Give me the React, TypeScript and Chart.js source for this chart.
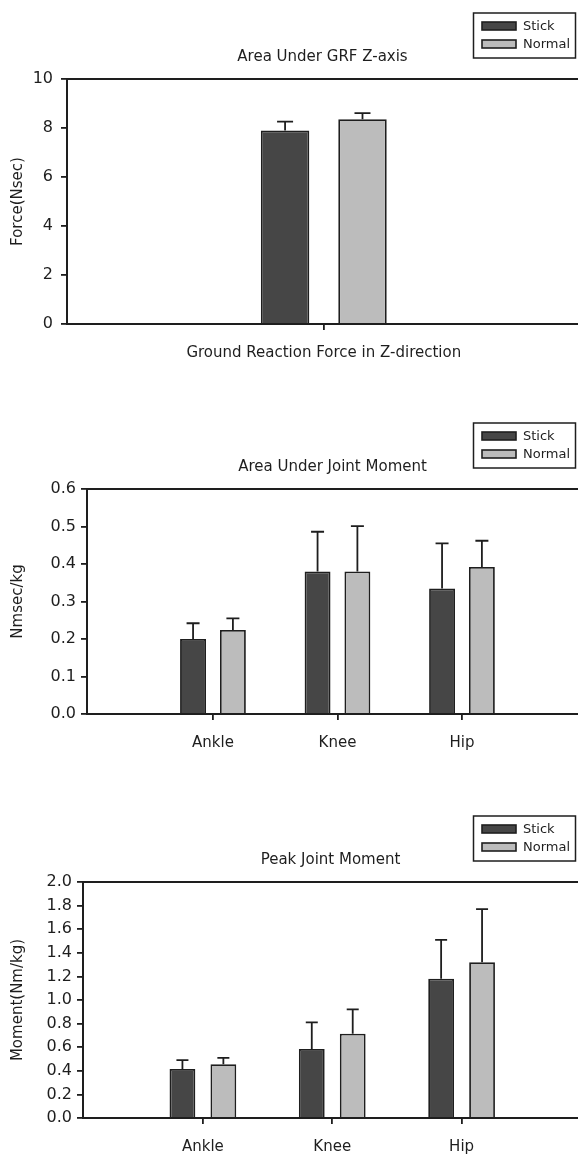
import React, { useEffect, useRef } from 'react';
import { Chart, registerables } from 'chart.js';

Chart.register(...registerables);

// ---------- data ----------
const seriesNames = ['Stick', 'Normal'];
const seriesColors = ['#464646', '#bcbcbc'];

// Panel 1
const grfTitle = 'Area Under GRF Z-axis';
const grfCategories = ['Ground Reaction Force in Z-direction'];
const grfStick = [7.9];
const grfStickErr = [0.36];
const grfNormal = [8.36];
const grfNormalErr = [0.25];
const grfYTicks = [0, 2, 4, 6, 8, 10];
const grfYTitle = 'Force(Nsec)';

// Panel 2
const jointCategories = ['Ankle', 'Knee', 'Hip'];
const areaTitle = 'Area Under Joint Moment';
const areaStick = [0.2, 0.38, 0.335];
const areaStickErr = [0.042, 0.106, 0.12];
const areaNormal = [0.224, 0.38, 0.392];
const areaNormalErr = [0.031, 0.121, 0.07];
const areaYTicks = [0, 0.1, 0.2, 0.3, 0.4, 0.5, 0.6];
const areaYTitle = 'Nmsec/kg';

// Panel 3
const peakTitle = 'Peak Joint Moment';
const peakStick = [0.415, 0.585, 1.18];
const peakStickErr = [0.075, 0.225, 0.33];
const peakNormal = [0.455, 0.715, 1.32];
const peakNormalErr = [0.055, 0.205, 0.45];
const peakYTicks = [0, 0.2, 0.4, 0.6, 0.8, 1.0, 1.2, 1.4, 1.6, 1.8, 2.0];
const peakYTitle = 'Moment(Nm/kg)';

// ---------- styling ----------
const FONT = "'DejaVu Sans', 'Liberation Sans', Arial, sans-serif";
const INK = '#1e1e1e';
Chart.defaults.font.family = FONT;
Chart.defaults.color = INK;

const errorBarPlugin = {
  id: 'errorBars',
  afterDatasetsDraw(chart: any, _args: any, opts: any) {
    const ctx = chart.ctx;
    const y = chart.scales.y;
    chart.data.datasets.forEach((ds: any, di: number) => {
      const meta = chart.getDatasetMeta(di);
      meta.data.forEach((el: any, i: number) => {
        const v = ds.data[i].y;
        const e = ds.errors[i];
        const top = y.getPixelForValue(v + e);
        ctx.save();
        ctx.strokeStyle = INK;
        ctx.lineWidth = 1.8;
        ctx.beginPath();
        ctx.moveTo(el.x, el.y);
        ctx.lineTo(el.x, top);
        ctx.moveTo(el.x - opts.capWidth / 2, top);
        ctx.lineTo(el.x + opts.capWidth / 2, top);
        ctx.stroke();
        ctx.restore();
      });
    });
  },
};

const decorPlugin = {
  id: 'decor',
  afterDraw(chart: any, _args: any, opts: any) {
    const ctx = chart.ctx;
    const { left, right, top } = chart.chartArea;
    ctx.save();
    // top frame line
    ctx.strokeStyle = INK;
    ctx.lineWidth = 2;
    ctx.beginPath();
    ctx.moveTo(left, top);
    ctx.lineTo(chart.width, top);
    ctx.stroke();
    // title
    ctx.fillStyle = INK;
    ctx.font = `15px ${FONT}`;
    ctx.textAlign = 'center';
    ctx.textBaseline = 'middle';
    ctx.fillText(opts.title, (left + right) / 2, top - 22);
    // legend box
    const bx = 473.5;
    const by = top - 66;
    const bw = 102;
    const bh = 45;
    ctx.lineWidth = 1.5;
    ctx.strokeStyle = INK;
    ctx.strokeRect(bx, by, bw, bh);
    chart.data.datasets.forEach((ds: any, i: number) => {
      const cy = by + 13 + i * 18;
      ctx.fillStyle = ds.backgroundColor;
      ctx.fillRect(482, cy - 4, 34, 8);
      ctx.strokeStyle = INK;
      ctx.lineWidth = 1.6;
      ctx.strokeRect(482, cy - 4, 34, 8);
      ctx.fillStyle = INK;
      ctx.textAlign = 'left';
      ctx.font = `13px ${FONT}`;
      ctx.fillText(ds.label, 523, cy + 1);
    });
    ctx.restore();
  },
};

type PanelProps = {
  top: number;
  height: number;
  plotTop: number;
  plotBottom: number;
  axisX: number;
  xMin: number;
  xMax: number;
  catPct: number;
  barPct: number;
  capWidth: number;
  labelPad: number;
  yPad: number;
  decimals: number;
  title: string;
  yTitle: string;
  categories: string[];
  stick: number[];
  stickErr: number[];
  normal: number[];
  normalErr: number[];
  yTicks: number[];
};

function Panel(p: PanelProps) {
  const ref = useRef<HTMLCanvasElement | null>(null);
  useEffect(() => {
    const toPts = (vals: number[]) => vals.map((v, i) => ({ x: i + 1, y: v }));
    const series = [
      { vals: p.stick, errs: p.stickErr },
      { vals: p.normal, errs: p.normalErr },
    ];
    const chart = new Chart(ref.current as HTMLCanvasElement, {
      type: 'bar',
      data: {
        datasets: series.map((s, i) => ({
          label: seriesNames[i],
          data: toPts(s.vals),
          errors: s.errs,
          backgroundColor: seriesColors[i],
          borderColor: INK,
          borderWidth: 1.8,
          categoryPercentage: p.catPct,
          barPercentage: p.barPct,
        })) as any,
      },
      options: {
        responsive: false,
        animation: false,
        devicePixelRatio: 1,
        events: [],
        layout: { padding: { top: p.plotTop, right: 0, bottom: 0, left: 0 } },
        plugins: {
          legend: { display: false },
          title: { display: false },
          tooltip: { enabled: false },
          errorBars: { capWidth: p.capWidth },
          decor: { title: p.title },
        } as any,
        scales: {
          x: {
            type: 'linear',
            min: p.xMin,
            max: p.xMax,
            offset: false,
            afterBuildTicks: (s: any) => {
              s.ticks = p.categories.map((_, i) => ({ value: i + 1 }));
            },
            afterFit: (s: any) => {
              s.height = p.height - p.plotBottom;
            },
            ticks: {
              autoSkip: false,
              maxRotation: 0,
              padding: p.labelPad,
              font: { size: 15 },
              color: INK,
              callback: (v: any) => p.categories[Math.round(Number(v)) - 1] ?? '',
            },
            grid: {
              offset: false,
              drawOnChartArea: false,
              drawTicks: true,
              tickLength: 6,
              color: INK,
              lineWidth: 1.8,
            },
            border: { display: true, color: INK, width: 2 },
          } as any,
          y: {
            type: 'linear',
            min: p.yTicks[0],
            max: p.yTicks[p.yTicks.length - 1],
            afterBuildTicks: (s: any) => {
              s.ticks = p.yTicks.map((v) => ({ value: v }));
            },
            afterFit: (s: any) => {
              s.width = p.axisX;
            },
            ticks: {
              padding: p.yPad,
              font: { size: 16 },
              color: INK,
              callback: (v: any) => Number(v).toFixed(p.decimals),
            },
            title: {
              display: true,
              text: p.yTitle,
              font: { size: 15 },
              color: INK,
              padding: { top: 9, bottom: 0 },
            },
            grid: {
              drawOnChartArea: false,
              drawTicks: true,
              tickLength: 6,
              color: INK,
              lineWidth: 1.8,
            },
            border: { display: true, color: INK, width: 2 },
          } as any,
        },
      },
      plugins: [errorBarPlugin, decorPlugin],
    } as any);
    return () => chart.destroy();
  }, []);
  return (
    <canvas
      ref={ref}
      width={578}
      height={p.height}
      style={{ position: 'absolute', left: 0, top: p.top, width: 578, height: p.height }}
    />
  );
}

export default function App() {
  return (
    <div
      style={{
        position: 'absolute',
        left: 0,
        top: 0,
        width: 578,
        height: 1157,
        overflow: 'hidden',
        background: '#ffffff',
      }}
    >
      <Panel
        top={0}
        height={380}
        plotTop={79}
        plotBottom={324}
        axisX={67}
        xMin={0}
        xMax={1.99}
        catPct={0.303}
        barPct={0.626}
        capWidth={16}
        labelPad={14}
        yPad={8}
        decimals={0}
        title={grfTitle}
        yTitle={grfYTitle}
        categories={grfCategories}
        stick={grfStick}
        stickErr={grfStickErr}
        normal={grfNormal}
        normalErr={grfNormalErr}
        yTicks={grfYTicks}
      />
      <Panel
        top={400}
        height={360}
        plotTop={89}
        plotBottom={314}
        axisX={87}
        xMin={-0.012}
        xMax={3.932}
        catPct={0.64}
        barPct={0.65}
        capWidth={13}
        labelPad={14}
        yPad={5}
        decimals={1}
        title={areaTitle}
        yTitle={areaYTitle}
        categories={jointCategories}
        stick={areaStick}
        stickErr={areaStickErr}
        normal={areaNormal}
        normalErr={areaNormalErr}
        yTicks={areaYTicks}
      />
      <Panel
        top={780}
        height={377}
        plotTop={102}
        plotBottom={338}
        axisX={83}
        xMin={0.073}
        xMax={3.9}
        catPct={0.633}
        barPct={0.63}
        capWidth={12}
        labelPad={14}
        yPad={5}
        decimals={1}
        title={peakTitle}
        yTitle={peakYTitle}
        categories={jointCategories}
        stick={peakStick}
        stickErr={peakStickErr}
        normal={peakNormal}
        normalErr={peakNormalErr}
        yTicks={peakYTicks}
      />
    </div>
  );
}
